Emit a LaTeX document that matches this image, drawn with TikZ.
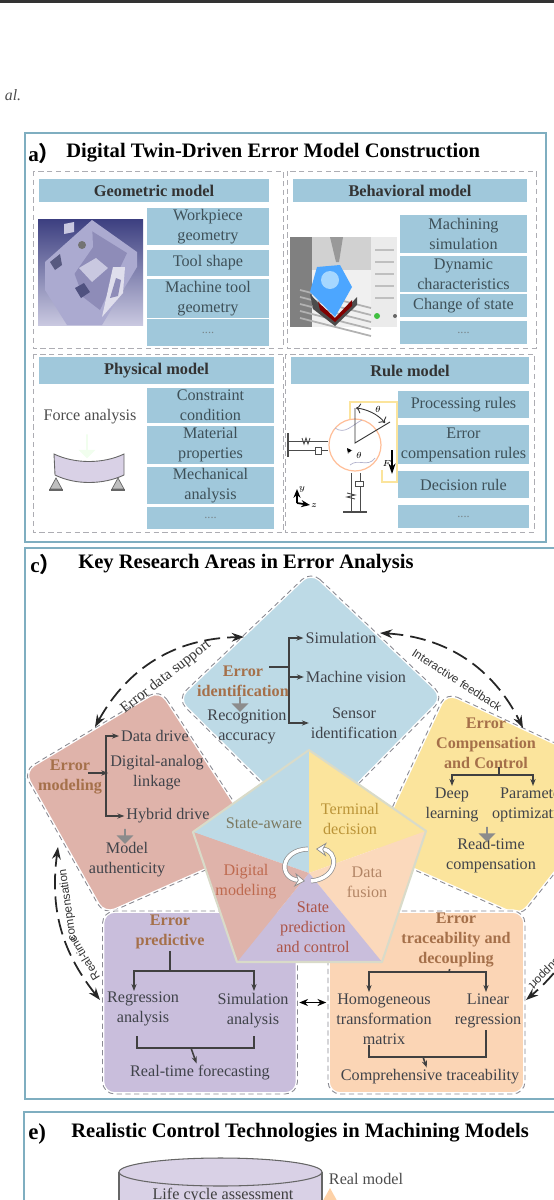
\documentclass[tikz,border=0pt]{standalone}
\usepackage{fontspec}
\setmainfont{Liberation Serif}
\setsansfont{Liberation Sans}
\newfontfamily\cjk{Noto Sans CJK SC}
\usepackage{tikz}
\usetikzlibrary{arrows.meta,shapes.geometric,shapes.arrows}
\definecolor{panelline}{HTML}{7FAEC0}
\definecolor{headfill}{HTML}{A0C8DB}
\definecolor{slatetext}{HTML}{3E5058}
\definecolor{dashgray}{HTML}{8A8A92}
\definecolor{bluearea}{HTML}{BDDAE6}
\definecolor{pinkarea}{HTML}{DFB3AA}
\definecolor{yellowarea}{HTML}{FBE49C}
\definecolor{purplearea}{HTML}{C9BEDC}
\definecolor{orangearea}{HTML}{FBD5B5}
\definecolor{browntext}{HTML}{A5704A}
\definecolor{darktext}{HTML}{40434A}
\definecolor{machfill}{HTML}{ABAAD0}
\definecolor{machdark}{HTML}{8E8CB8}
\definecolor{machnavy}{HTML}{3C3F80}
\definecolor{machpale}{HTML}{C9C8E0}
\tikzset{
	panelbox/.style={draw=panelline, line width=1pt},
	dashbox/.style={draw=dashgray!70, densely dashed, line width=.5pt},
	headbox/.style={fill=headfill, font=\fontsize{9.3}{11}\selectfont\bfseries, text=black!80, inner sep=0pt},
	itembox/.style={fill=headfill, text=slatetext, align=center, inner sep=0pt, font=\fontsize{9.2}{11.3}\selectfont},
	regionbox/.style={fill=#1, draw=white, line width=2pt, rounded corners=7pt, postaction={draw=dashgray, densely dashed, line width=.5pt}},
	areatext/.style={align=center, inner sep=1pt, text=darktext, font=\fontsize{9.2}{11.3}\selectfont},
	errtext/.style={align=center, inner sep=1pt, text=browntext, font=\fontsize{9.2}{11.3}\selectfont\bfseries},
	treeline/.style={draw=black!75, line width=.6pt},
	treearr/.style={treeline, -{Stealth[length=4pt,width=3pt]}},
	cyclearr/.style={black!85, line width=1pt, dash pattern=on 9pt off 4pt, {Stealth[length=7pt,width=5pt]}-{Stealth[length=7pt,width=5pt]}},
	blockarr/.style={single arrow, fill=#1, shape border rotate=270, minimum width=.34cm, minimum height=.3cm, single arrow head extend=2pt, inner sep=0pt},
	sidetext/.style={inner sep=0pt, text=black!80}
}
\begin{document}
\begin{tikzpicture}[x=0.02cm, y=-0.02cm, every node/.style={font=\fontsize{9.2}{11.3}\selectfont}]
	\useasboundingbox (0,0) rectangle (554,1200);
	\clip (0,0) rectangle (554,1200);
	\fill[black!80] (0,0) rectangle (554,3);
	\node[text=black!70, font=\fontsize{9}{11}\selectfont\itshape] (authorname) at (13,95) {al.};

	\draw[panelbox] (25,133) rectangle (546,542);
	\node[anchor=west, inner sep=0pt, font=\fontsize{12}{14}\selectfont\bfseries] (labela) at (28,153) {a{\cjk ）}};
	\node[anchor=west, inner sep=0pt, font=\fontsize{11.7}{14}\selectfont\bfseries] (titlea) at (66,153) {Digital Twin-Driven Error Model Construction};
	\draw[dashbox] (33,171) rectangle (283,348);
	\draw[dashbox] (287,171) rectangle (536,348);
	\draw[dashbox] (33,354) rectangle (283,532);
	\draw[dashbox] (285,354) rectangle (534,532);
	\node[headbox, minimum width=4.6cm, minimum height=.46cm] (headgeo) at (154,190.5) {Geometric model};
	\node[headbox, minimum width=4.68cm, minimum height=.46cm] (headbeh) at (410,190.5) {Behavioral model};
	\node[headbox, minimum width=4.7cm, minimum height=.54cm] (headphy) at (156.5,370.5) {Physical model};
	\node[headbox, minimum width=4.76cm, minimum height=.54cm] (headrule) at (410,370.5) {Rule model};
	\foreach \ya/\yb/\txt [count=\i] in {208/245/{Workpiece\\geometry},250/276/{Tool shape},279/318/{Machine tool\\geometry},319/346/{\textcolor{slatetext!70}{\scriptsize ....}}} {
		\pgfmathsetmacro{\ym}{(\ya+\yb)/2}
		\pgfmathsetmacro{\h}{(\yb-\ya)*0.02}
		\node[itembox, minimum width=2.44cm, minimum height=\h cm] (geoitem\i) at (208,\ym) {\txt};
	}
	\foreach \ya/\yb/\txt [count=\i] in {215/253/{Machining\\simulation},256/292/{Dynamic\\characteristics},294/317/{Change of state},321/344/{\textcolor{slatetext!70}{\scriptsize ....}}} {
		\pgfmathsetmacro{\ym}{(\ya+\yb)/2}
		\pgfmathsetmacro{\h}{(\yb-\ya)*0.02}
		\node[itembox, minimum width=2.54cm, minimum height=\h cm] (behitem\i) at (463.5,\ym) {\txt};
	}
	\foreach \ya/\yb/\txt [count=\i] in {388/423/{Constraint\\condition},426/464/{Material\\properties},467/504/{Mechanical\\analysis},507/529/{\textcolor{slatetext!70}{\scriptsize ....}}} {
		\pgfmathsetmacro{\ym}{(\ya+\yb)/2}
		\pgfmathsetmacro{\h}{(\yb-\ya)*0.02}
		\node[itembox, minimum width=2.54cm, minimum height=\h cm] (phyitem\i) at (210.5,\ym) {\txt};
	}
	\foreach \ya/\yb/\txt [count=\i] in {391/418/{Processing rules},425/464/{Error\\compensation rules},471/498/{Decision rule},505/528/{\textcolor{slatetext!70}{\scriptsize ....}}} {
		\pgfmathsetmacro{\ym}{(\ya+\yb)/2}
		\pgfmathsetmacro{\h}{(\yb-\ya)*0.02}
		\node[itembox, minimum width=2.62cm, minimum height=\h cm] (ruleitem\i) at (463.5,\ym) {\txt};
	}

	\shade[top color=machnavy, bottom color=machpale] (38,219) rectangle (143,325);
	\fill[machfill] (45,262) -- (92,220) -- (137,252) -- (137,267) -- (102,325) -- (67,325) -- (45,290) -- cycle;
	\fill[machdark] (67,253) -- (90,230) -- (127,253) -- (100,310) -- (83,297) -- cycle;
	\fill[machfill] (65,252) -- (92,222) -- (93,247) -- (70,280) -- cycle;
	\fill[black!55] (82,245) circle (4);
	\fill[machpale] (79,268) -- (96,258) -- (108,268) -- (92,282) -- cycle;
	\fill[machnavy!70!gray] (75,288) -- (84,283) -- (90,292) -- (81,298) -- cycle;
	\fill[machnavy!60!gray] (50,262) -- (60,254) -- (62,265) -- (55,270) -- cycle;
	\fill[machpale!60!white] (113,267) -- (125,267) -- (123,293) -- (102,317) -- cycle;
	\fill[machdark] (116,278) -- (121,280) -- (118,296) -- (110,298) -- cycle;
	\fill[machpale] (64,224) -- (74,222) -- (74,232) -- (64,234) -- cycle;

	\fill[black!50] (290,237) rectangle (312,327);
	\fill[black!18] (312,237) rectangle (371,270);
	\fill[black!6] (312,270) rectangle (371,327);
	\fill[black!8] (371,237) rectangle (397,327);
	\fill[black!40] (330,237) -- (343,237) -- (339,262) -- (336,262) -- cycle;
	\foreach \yl in {290,297,304,311,318} {
		\draw[black!30, line width=1pt] (300,\yl) -- (371,\yl+18);
	}
	\fill[black!70] (310,294) -- (335,321) -- (357,297) -- (357,305) -- (335,326) -- (313,309) -- cycle;
	\fill[red!50!black] (318,302) -- (335,318) -- (352,300) -- (352,306) -- (335,322) -- (320,310) -- cycle;
	\fill[blue!50!cyan!70] (317,267) -- (340,265) -- (352,287) -- (335,317) -- (310,292) -- cycle;
	\fill[blue!45!cyan!35] (330,280) circle (9);
	\fill[green!50!gray] (377,316) circle (3);
	\fill[black!60] (395,316) circle (2);
	\foreach \yl in {250,262,274,286,298} {
		\draw[black!25, line width=.8pt] (375,\yl) -- (394,\yl);
	}

	\node[text=black!70] (forcetxt) at (90,417) {Force analysis};
	\node[blockarr=yellowarea!30!green!8!white, minimum height=.48cm] (forcearr) at (87,446) {};
	\draw[black!60, fill=purplearea!70!white, line width=.5pt] (54,454) .. controls (75,464) and (103,464) .. (124,454) -- (124,475) .. controls (103,485) and (75,485) .. (55,475) -- cycle;
	\foreach \xs in {56,118} {
		\draw[black!60, fill=black!25, line width=.4pt] (\xs,478) -- (\xs-6,489) -- (\xs+6,489) -- cycle;
		\draw[black!60, line width=.8pt] (\xs-7,490) -- (\xs+7,490);
	}

	\draw[yellowarea, line width=.8pt] (350,420) -- (350,402) -- (397,402) -- (397,482) -- (382,482) -- (382,470);
	\draw[red!25!orange!40!white, fill=white, line width=.7pt] (355,445) circle (26);
	\draw[blue!20!gray!50!white, line width=.4pt] (335,428) .. controls (345,435) and (352,425) .. (362,420);
	\draw[blue!20!gray!50!white, line width=.4pt] (350,465) .. controls (358,458) and (368,468) .. (375,458);
	\draw[black!70, line width=.6pt] (288,433) -- (288,457);
	\draw[black!70, line width=.5pt] (288,441) -- (328,441);
	\draw[black!70, line width=.5pt] (288,450) -- (328,450);
	\draw[black!70, fill=white, line width=.5pt] (315,447) rectangle (321,454);
	\draw[black!70, line width=.5pt] (302,438) -- (304,444) -- (306,438) -- (308,444) -- (310,438);
	\draw[black!70, line width=.5pt] (351,473) -- (351,512);
	\draw[black!70, line width=.5pt] (360,473) -- (360,512);
	\draw[black!70, line width=.8pt] (343,512) -- (367,512);
	\draw[black!70, fill=white, line width=.5pt] (355,481) rectangle (363,486);
	\draw[black!70, line width=.5pt] (347,493) -- (355,495) -- (347,497) -- (355,499);
	\draw[black!80, line width=.5pt] (355,408) -- (355,443) -- (390,422);
	\draw[black!80, line width=.5pt, <->] (356,408) .. controls (366,409) and (378,414) .. (385,423);
	\node[inner sep=0pt, font=\tiny\itshape] (thetaa) at (378,409) {$\theta$};
	\draw[black, line width=1pt, -{Stealth[length=6pt,width=4pt]}] (392,450) -- (392,474);
	\node[inner sep=0pt, font=\tiny\itshape] (forcef) at (387,463) {$F$};
	\draw[black, line width=.8pt, -{Stealth[length=3pt,width=3pt]}] (350,452) -- (347,448);
	\node[inner sep=0pt, font=\tiny\itshape] (thetab) at (359,455) {$\theta$};
	\coordinate (axisorg) at (297,503);
	\coordinate (axisy) at (297,489);
	\coordinate (axisz) at (310,505);
	\draw[black, line width=1pt, -{Stealth[length=5pt,width=4pt]}] (axisorg) -- (axisy);
	\draw[black, line width=1pt, -{Stealth[length=5pt,width=4pt]}] (axisorg) -- (axisz);
	\node[inner sep=0pt, font=\tiny\itshape] (axislabely) at (302,489) {$y$};
	\node[inner sep=0pt, font=\tiny\itshape] (axislabelz) at (314,506) {$z$};

	\draw[panelbox] (25,548) rectangle (620,1099);
	\node[anchor=west, inner sep=0pt, font=\fontsize{12}{14}\selectfont\bfseries] (labelc) at (30,564) {c{\cjk ）}};
	\node[anchor=west, inner sep=0pt, font=\fontsize{11.7}{14}\selectfont\bfseries] (titlec) at (78,564) {Key Research Areas in Error Analysis};

	\draw[regionbox=bluearea] (311,571) -- (444,697) -- (311,832) -- (177,699) -- cycle;
	\draw[regionbox=pinkarea] (160,689) -- (262,845) -- (104,915) -- (23,771) -- cycle;
	\draw[regionbox=yellowarea] (446,692) -- (630,778) -- (520,917) -- (372,851) -- cycle;
	\node[regionbox=purplearea, minimum width=3.9cm, minimum height=3.66cm] (predbox) at (200,1002.5) {};
	\node[regionbox=orangearea, minimum width=3.94cm, minimum height=3.66cm] (tracebox) at (426.5,1002.5) {};
	\draw[black, line width=.8pt, {Stealth[length=5pt,width=4pt]}-{Stealth[length=5pt,width=4pt]}] (predbox) -- (tracebox);

	\coordinate (pentop) at (309,750);
	\coordinate (penright) at (426,831);
	\coordinate (penbr) at (382,962);
	\coordinate (penbl) at (237,962);
	\coordinate (penleft) at (193,832);
	\coordinate (pencenter) at (309,873);
	\fill[bluearea] (pentop) -- (penleft) -- (pencenter) -- cycle;
	\fill[yellowarea] (pentop) -- (penright) -- (pencenter) -- cycle;
	\fill[orangearea!90!white] (penright) -- (penbr) -- (pencenter) -- cycle;
	\fill[purplearea] (penbr) -- (penbl) -- (pencenter) -- cycle;
	\fill[pinkarea] (penbl) -- (penleft) -- (pencenter) -- cycle;
	\draw[green!15!yellow!20!gray!35!white, line width=1.2pt, line join=round] (pentop) -- (penright) -- (penbr) -- (penbl) -- (penleft) -- cycle;
	\draw[black!45, double=white, double distance=2pt, line width=.4pt, -{Stealth[length=6pt,width=8pt,fill=white]}] (311,881) .. controls (340,878) and (338,850) .. (316,849);
	\draw[black!45, double=white, double distance=2pt, line width=.4pt, -{Stealth[length=6pt,width=8pt,fill=white]}] (308,849) .. controls (280,850) and (278,878) .. (305,881);
	\node[inner sep=0pt, align=center, text=black!45!olive!40!gray] (penaware) at (264,823) {State-aware};
	\node[inner sep=0pt, align=center, text=browntext!75!yellow] (penterminal) at (350,819) {Terminal\\decision};
	\node[inner sep=0pt, align=center, text=browntext!80!red!90!white] (pendigital) at (246,882) {Digital\\modeling};
	\node[inner sep=0pt, align=center, text=browntext!85!white] (penfusion) at (367,882) {Data\\fusion};
	\node[inner sep=0pt, align=center, text=browntext!75!purple] (penstate) at (313,927) {State\\prediction\\and control};

	\node[errtext] (erriden) at (243,681) {Error\\identification};
	\node[areatext] (simtxt) at (341,638) {Simulation};
	\node[areatext] (visiontxt) at (356,677) {Machine vision};
	\node[areatext] (sensortxt) at (354,723) {Sensor\\identification};
	\node[areatext] (recogtxt) at (247,727) {Recognition\\accuracy};
	\node[blockarr=black!45] (idenarr) at (240,704) {};
	\coordinate (identail) at (269,667);
	\coordinate (idenjoin) at (289,667);
	\coordinate (visionjoin) at (289,677);
	\draw[treeline] (identail) -- (idenjoin);
	\draw[treearr] (idenjoin) |- (simtxt);
	\draw[treearr] (idenjoin) |- (sensortxt);
	\draw[treearr] (visionjoin) -- (visiontxt);

	\node[errtext] (errmodel) at (70,777) {Error\\modeling};
	\node[areatext] (datatxt) at (155,736) {Data drive};
	\node[areatext] (linktxt) at (157,773) {Digital-analog\\linkage};
	\node[areatext] (hybridtxt) at (168,816) {Hybrid drive};
	\node[areatext] (authtxt) at (127,860) {Model\\authenticity};
	\node[blockarr=black!45] (modelarr) at (125,836) {};
	\coordinate (modeltail) at (88,773);
	\coordinate (modeljoin) at (106,773);
	\draw[treearr] (modeltail) -- (linktxt);
	\draw[treearr] (modeljoin) |- (datatxt);
	\draw[treearr] (modeljoin) |- (hybridtxt);

	\node[errtext] (errcomp) at (486,743) {Error\\Compensation\\and Control};
	\node[areatext] (deeptxt) at (452,805) {Deep\\learning};
	\node[areatext] (paramtxt) at (533,805) {Parameter\\optimization};
	\node[areatext] (readtxt) at (491,856) {Read-time\\compensation};
	\node[blockarr=black!45] (comparr) at (487,834) {};
	\coordinate (comptail) at (499,767);
	\coordinate (compjoin) at (499,775);
	\draw[treeline] (comptail) -- (compjoin);
	\draw[treearr] (compjoin) -| (deeptxt);
	\draw[treearr] (compjoin) -| (paramtxt);

	\node[errtext] (errpred) at (170,932) {Error\\predictive};
	\node[areatext] (regtxt) at (143,1009) {Regression\\analysis};
	\node[areatext] (simatxt) at (253,1011) {Simulation\\analysis};
	\node[areatext] (forecasttxt) at (200,1073) {Real-time forecasting};
	\coordinate (predjoin) at (170,971);
	\coordinate (regtop) at (134,991);
	\coordinate (simatop) at (254,991);
	\coordinate (bracketa) at (137,1036);
	\coordinate (bracketb) at (254,1036);
	\coordinate (bracketc) at (191,1048);
	\draw[treeline, line width=.9pt] (errpred) -- (predjoin);
	\draw[treearr, line width=.9pt] (predjoin) -| (regtop);
	\draw[treearr, line width=.9pt] (predjoin) -| (simatop);
	\draw[treeline, line width=.9pt] (bracketa) |- (bracketc) -| (bracketb);
	\draw[treearr, line width=.9pt] (bracketc) -- (forecasttxt);

	\node[errtext] (errtrace) at (456,940) {Error\\traceability and\\decoupling};
	\node[areatext] (homotxt) at (384,1019) {Homogeneous\\transformation\\matrix};
	\node[areatext] (lineartxt) at (488,1011) {Linear\\regression};
	\node[areatext] (comprtxt) at (430,1077) {Comprehensive traceability};
	\coordinate (tracejoin) at (449,972);
	\coordinate (homotop) at (369,992);
	\coordinate (lineartop) at (486,992);
	\coordinate (bracketd) at (369,1045);
	\coordinate (brackete) at (486,1030);
	\coordinate (bracketf) at (423,1057);
	\draw[treeline, line width=.9pt] (errtrace) -- (tracejoin);
	\draw[treearr, line width=.9pt] (tracejoin) -| (homotop);
	\draw[treearr, line width=.9pt] (tracejoin) -| (lineartop);
	\draw[treeline, line width=.9pt] (bracketd) |- (bracketf) -| (brackete);
	\draw[treearr, line width=.9pt] (bracketf) -- (comprtxt);

	\coordinate (cyclea) at (95,727);
	\coordinate (cycleb) at (244,637);
	\coordinate (cyclec) at (380,633);
	\coordinate (cycled) at (523,728);
	\coordinate (cyclee) at (100,1000);
	\coordinate (cyclef) at (58,847);
	\coordinate (cycleg) at (590,860);
	\coordinate (cycleh) at (526,1000);
	\draw[cyclearr] (cyclea) to[bend left=30] (cycleb);
	\draw[cyclearr] (cyclec) to[bend left=30] (cycled);
	\draw[cyclearr] (cyclee) to[bend left=23] (cyclef);
	\draw[cyclearr] (cycleg) to[bend left=25] (cycleh);
	\node[sidetext, rotate=38, font=\fontsize{8.6}{10}\selectfont] (supporttxt) at (166,677) {Error data support};
	\node[sidetext, rotate=-33, font=\fontsize{6.6}{8}\selectfont\sffamily] (feedbacktxt) at (457,680) {Interactive feedback};
	\node[sidetext, rotate=98, font=\fontsize{6.6}{8}\selectfont\sffamily] (compentxt) at (68,905) {compensation};
	\node[sidetext, rotate=121, font=\fontsize{6.6}{8}\selectfont\sffamily] (realtimetxt) at (84,958) {Real-time};
	\node[sidetext, rotate=225, font=\fontsize{6.6}{8}\selectfont\sffamily] (supportb) at (544,973) {support};

	\draw[panelbox] (24,1112) rectangle (620,1260);
	\node[anchor=west, inner sep=0pt, font=\fontsize{13}{15}\selectfont\bfseries] (labele) at (28,1134) {e)};
	\node[anchor=west, inner sep=0pt, font=\fontsize{11.7}{14}\selectfont\bfseries] (titlee) at (71,1133) {Realistic Control Technologies in Machining Models};
	\fill[orangearea!60!orange!60!white] (330,1188) -- (345,1215) -- (315,1215) -- cycle;
	\draw[black!60, fill=purplearea!70!white, line width=.6pt] (119,1172) -- (119,1215) -- (322,1215) -- (322,1172);
	\node[draw=black!60, fill=purplearea!70!white, line width=.6pt, ellipse, minimum width=4.06cm, minimum height=.56cm, inner sep=0pt] (cyltop) at (220.5,1172) {};
	\node[areatext, text=black!75] (lifetxt) at (223,1196) {Life cycle assessment};
	\node[text=black!70, inner sep=0pt] (realmodel) at (366,1179) {Real model};
\end{tikzpicture}
\end{document}
